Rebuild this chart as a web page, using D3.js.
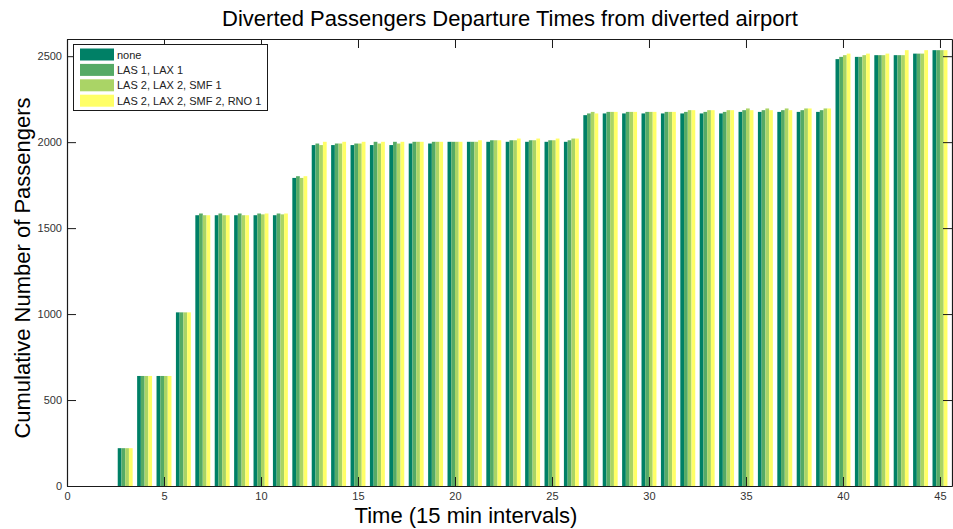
<!DOCTYPE html>
<html>
<head>
<meta charset="utf-8">
<script src="https://cdn.jsdelivr.net/npm/d3@7"></script>
<style>
  html, body { margin: 0; padding: 0; background: #fff; }
  svg { display: block; }
  text { font-family: "Liberation Sans", Arial, Helvetica, sans-serif; }
</style>
</head>
<body>
<svg id="chart" width="953" height="529"></svg>
<script>
// ---------- DATA ----------
const times = [3,4,5,6,7,8,9,10,11,12,13,14,15,16,17,18,19,20,21,22,23,24,25,26,27,28,29,30,31,32,33,34,35,36,37,38,39,40,41,42,43,44,45];
const seriesNames = ["none", "LAS 1, LAX 1", "LAS 2, LAX 2, SMF 1", "LAS 2, LAX 2, SMF 2, RNO 1"];
const none =    [220,640,640,1010,1575,1575,1575,1575,1575,1792,1983,1983,1983,1983,1983,1992,1992,2002,2002,2002,2002,2002,2002,2002,2157,2167,2167,2167,2167,2167,2167,2167,2176,2176,2176,2176,2176,2483,2496,2506,2506,2515,2535];
const las1 =    [220,640,640,1010,1585,1585,1585,1585,1585,1802,1992,1992,1992,2002,2002,2002,2002,2002,2002,2011,2011,2011,2011,2011,2167,2176,2176,2176,2176,2176,2176,2176,2186,2186,2186,2186,2186,2496,2496,2506,2506,2515,2535];
const las2smf = [220,640,640,1010,1575,1575,1575,1580,1580,1792,1983,1992,1992,1992,1992,2002,2002,2002,2002,2011,2011,2011,2011,2021,2176,2176,2176,2176,2176,2186,2186,2186,2196,2196,2196,2196,2196,2506,2506,2506,2506,2515,2535];
const rno =     [220,640,640,1010,1575,1575,1575,1585,1585,1802,2002,2002,2002,2002,2002,2002,2002,2002,2011,2011,2021,2021,2021,2021,2167,2176,2176,2176,2176,2186,2186,2186,2186,2186,2186,2196,2196,2515,2515,2515,2535,2535,2535];
const seriesValues = [none, las1, las2smf, rno];
const seriesColors = ["#008066", "#55aa66", "#aad466", "#ffff66"];
const xTicks = [0,5,10,15,20,25,30,35,40,45];
const yTicks = [0,500,1000,1500,2000,2500];

// ---------- LAYOUT ----------
const svg = d3.select("#chart");
const L = 67, R = 952, T = 39, B = 486;
const x = d3.scaleLinear().domain([0, 45.62]).range([L, R]);
const y = d3.scaleLinear().domain([0, 2600]).range([B, T]);
const groupW = 0.77;
const nS = seriesValues.length;
const barW = groupW / nS;

// bars
seriesValues.forEach((vals, s) => {
  svg.append("g").selectAll("rect")
    .data(times.map((t, i) => ({t, v: vals[i]})))
    .join("rect")
    .attr("x", d => x(d.t - groupW / 2 + s * barW))
    .attr("width", x(barW) - x(0))
    .attr("y", d => y(d.v))
    .attr("height", d => y(0) - y(d.v))
    .attr("fill", seriesColors[s]);
});

// axes
const tickLen = 9;
const fmt = d3.format("d");
const axB = svg.append("g").attr("transform", `translate(0,${B})`)
  .call(d3.axisBottom(x).tickValues(xTicks).tickFormat(fmt).tickSizeInner(-tickLen).tickSizeOuter(0).tickPadding(4));
const axT = svg.append("g").attr("transform", `translate(0,${T})`)
  .call(d3.axisTop(x).tickValues(xTicks).tickSizeInner(-tickLen).tickSizeOuter(0).tickFormat(""));
const axL = svg.append("g").attr("transform", `translate(${L},0)`)
  .call(d3.axisLeft(y).tickValues(yTicks).tickFormat(fmt).tickSizeInner(-tickLen).tickSizeOuter(0).tickPadding(4));
const axR = svg.append("g").attr("transform", `translate(${R},0)`)
  .call(d3.axisRight(y).tickValues(yTicks).tickSizeInner(-tickLen).tickSizeOuter(0).tickFormat(""));
[axB, axT, axL, axR].forEach(a => {
  a.select(".domain").attr("stroke", "#1a1a1a").attr("stroke-width", 1.2);
  a.selectAll(".tick line").attr("stroke", "#1a1a1a");
  a.selectAll(".tick text").attr("fill", "#333").style("font-size", "11px")
    .style("font-family", "'Liberation Sans', Arial, sans-serif");
});
axB.selectAll(".tick text").attr("dy", "0.9em");
axL.selectAll(".tick text").attr("dx", "-1");

// title and labels
svg.append("text").attr("x", 510).attr("y", 26).attr("text-anchor", "middle")
  .style("font-size", "22px").attr("fill", "#000")
  .text("Diverted Passengers Departure Times from diverted airport");
svg.append("text").attr("x", 466).attr("y", 523).attr("text-anchor", "middle")
  .style("font-size", "22px").attr("fill", "#000")
  .text("Time (15 min intervals)");
svg.append("text").attr("transform", "translate(30,268) rotate(-90)").attr("text-anchor", "middle")
  .style("font-size", "22px").attr("fill", "#000")
  .text("Cumulative Number of Passengers");

// legend
const lg = svg.append("g");
lg.append("rect").attr("x", 73.5).attr("y", 44.5).attr("width", 194).attr("height", 66)
  .attr("fill", "#fff").attr("stroke", "#1a1a1a").attr("stroke-width", 1);
seriesNames.forEach((name, i) => {
  const cy = 54.5 + i * 15.4;
  lg.append("rect").attr("x", 80).attr("y", cy - 6).attr("width", 34).attr("height", 12)
    .attr("fill", seriesColors[i]);
  lg.append("text").attr("x", 117).attr("y", cy + 4).style("font-size", "11px")
    .attr("fill", "#222").text(name);
});
</script>
</body>
</html>
